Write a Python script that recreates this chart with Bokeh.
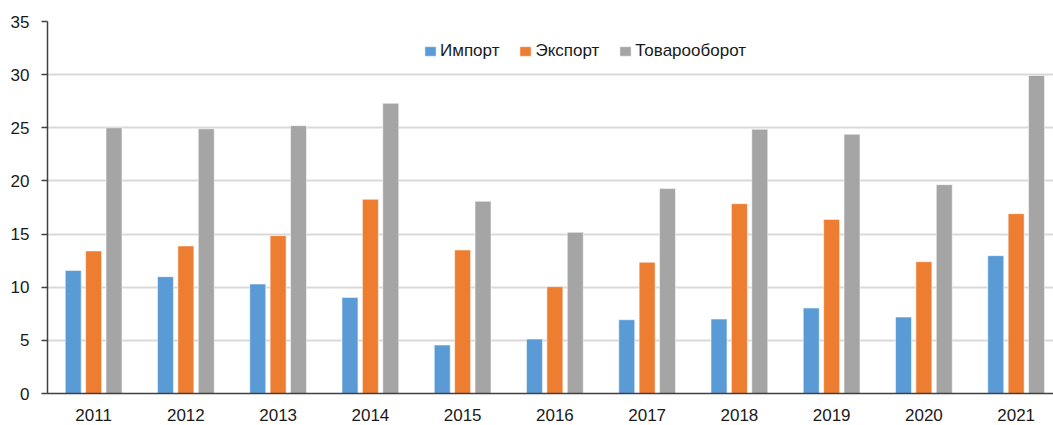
import numpy as np
from bokeh.plotting import figure
from bokeh.models import Range1d, FixedTicker, Legend, LegendItem
from bokeh.embed import file_html
from bokeh.resources import INLINE

years = ["2011", "2012", "2013", "2014", "2015", "2016", "2017", "2018", "2019", "2020", "2021"]
imports = [11.58, 10.99, 10.3, 9.04, 4.56, 5.12, 6.94, 7.0, 8.04, 7.19, 12.97]
exports = [13.41, 13.88, 14.85, 18.27, 13.5, 10.05, 12.34, 17.86, 16.38, 12.4, 16.92]
turnover = [25.0, 24.9, 25.2, 27.3, 18.08, 15.16, 19.28, 24.86, 24.39, 19.65, 29.92]
y_ticks = [0, 5, 10, 15, 20, 25, 30, 35]
series_names = ["Импорт", "Экспорт", "Товарооборот"]

FONT = "Liberation Sans"
colors = ["#5B9BD5", "#ED7D31", "#A5A5A5"]

n = len(years)
centers = np.arange(n) + 0.5
offset = 0.221
bw = 0.173

p = figure(width=1053, height=425, output_backend="svg", toolbar_location=None,
           x_range=Range1d(0, 10.905), y_range=Range1d(0, 35),
           min_border_left=47, min_border_right=0, min_border_top=21, min_border_bottom=32)
p.outline_line_color = None
p.background_fill_color = "white"

renderers = []
for vals, dx, c in zip([imports, exports, turnover], [-offset, 0, offset], colors):
    r = p.vbar(x=centers + dx, top=vals, bottom=0, width=bw, fill_color=c,
               line_color="white", line_width=1, line_alpha=0.5)
    renderers.append(r)

p.xgrid.visible = False
p.ygrid.grid_line_color = "#D9D9D9"
p.ygrid.grid_line_width = 2
p.ygrid.ticker = FixedTicker(ticks=y_ticks)

p.yaxis.ticker = FixedTicker(ticks=y_ticks)
p.yaxis.axis_line_color = "#404040"
p.yaxis.axis_line_width = 1.5
p.yaxis.major_tick_line_color = "#404040"
p.yaxis.major_tick_line_width = 1.5
p.yaxis.major_tick_out = 6
p.yaxis.major_tick_in = 0
p.yaxis.minor_tick_line_color = None
p.yaxis.major_label_standoff = 12

p.xaxis.ticker = FixedTicker(ticks=list(centers))
p.xaxis.major_label_overrides = {float(c): y for c, y in zip(centers, years)}
p.xaxis.axis_line_color = "#404040"
p.xaxis.axis_line_width = 1.5
p.xaxis.major_tick_line_color = None
p.xaxis.minor_tick_line_color = None
p.xaxis.major_label_standoff = 9

for ax in (p.xaxis, p.yaxis):
    ax.major_label_text_font = FONT
    ax.major_label_text_font_size = "17px"
    ax.major_label_text_color = "#1a1a1a"

legend = Legend(items=[LegendItem(label=nm, renderers=[r]) for nm, r in zip(series_names, renderers)],
                orientation="horizontal", location=(376, 332),
                glyph_width=14, glyph_height=12, label_height=12, label_standoff=3, spacing=19,
                padding=0, margin=0, border_line_color=None, background_fill_alpha=0,
                label_text_font=FONT, label_text_font_size="17px", label_text_color="#1a1a1a")
p.add_layout(legend, "center")

open("out.html", "w").write(file_html(p, INLINE))
